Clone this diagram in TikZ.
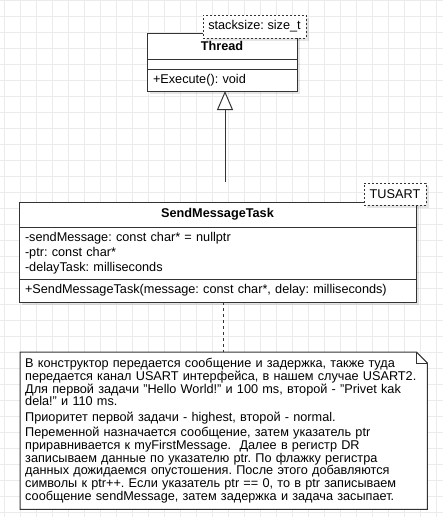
\documentclass[tikz,border=0pt]{standalone}
\usepackage{fontspec}
\setmainfont{Liberation Sans}
\usetikzlibrary{arrows.meta,positioning,shadows,backgrounds}
\definecolor{umlline}{RGB}{51,51,51}
\definecolor{gridc}{RGB}{235,235,235}
\frenchspacing

\tikzset{
  gridline/.style={draw=gridc, line width=0.9pt},
  boxshadow/.style={drop shadow={shadow xshift=3pt, shadow yshift=-3pt, fill=black, opacity=0.1}},
  umlpart/.style={draw=umlline, line width=1pt, fill=white, inner sep=0pt, outer sep=0pt,
    font=\fontsize{12.7}{15}\selectfont},
  umlhead/.style={umlpart, font=\fontsize{12.7}{15}\selectfont\bfseries},
  umlbody/.style={umlpart, align=left, inner xsep=6pt},
  tagbox/.style={umlpart, dash pattern=on 2pt off 2pt, align=center},
  genline/.style={draw=umlline, line width=1pt, -{Triangle[length=19pt, width=16pt, fill=white]}},
  notelink/.style={draw=umlline, line width=1pt, dash pattern=on 3pt off 3pt},
  noteline/.style={draw=umlline, line width=1pt, fill=white},
}

\begin{document}
\begin{tikzpicture}[x=1pt, y=-1pt]
\useasboundingbox (0,0) rectangle (443,517);
\begin{scope}[on background layer]
  \fill[white] (0,0) rectangle (443,517);
  \foreach \gx in {4,20,...,440} \draw[gridline] (\gx,0) -- (\gx,517);
  \foreach \gy in {0,16,...,512} \draw[gridline] (0,\gy) -- (443,\gy);
\end{scope}

% ---- Thread
\node[umlhead, boxshadow, minimum width=150pt, minimum height=26pt, anchor=north west] (thread) at (147,33) {Thread};
\node[umlpart, boxshadow, minimum width=150pt, minimum height=10pt, anchor=north] (threadattr) at (thread.south) {};
\node[umlbody, boxshadow, text width=138pt, minimum height=22pt, anchor=north] (threadops) at (threadattr.south) {+Execute(): void};
\node[tagbox, boxshadow, minimum width=103pt, minimum height=23pt, anchor=north west] (stacktag) at (203,15) {stacksize: size\_t};

% ---- SendMessageTask
\node[umlhead, boxshadow, minimum width=397pt, minimum height=25pt, anchor=north west] (send) at (19,202) {SendMessageTask};
\node[umlbody, boxshadow, text width=385pt, minimum height=52pt, anchor=north] (sendattr) at (send.south)
  {-sendMessage: const char* = nullptr\\-ptr: const char*\\-delayTask: milliseconds};
\node[umlbody, boxshadow, text width=385pt, minimum height=23pt, anchor=north] (sendops) at (sendattr.south)
  {+SendMessageTask(message: const char*, delay: milliseconds)};
\node[tagbox, boxshadow, minimum width=62pt, minimum height=22pt, anchor=north west] (usarttag) at (364,183) {TUSART};

\coordinate (genend) at (225,182);
\draw[genline] (genend) -- (threadops.south -| genend);

% ---- note
\node[inner sep=0pt, minimum width=407pt, minimum height=157pt, text width=397pt, align=left,
  anchor=north west, font=\fontsize{12.7}{12.8}\selectfont] (note) at (20,352)
  {В конструктор передается сообщение и задержка, также туда\\
   передается канал USART интерфейса, в нашем случае USART2.\\
   Для первой задачи "Hello World!" и 100 ms, второй - "Privet kak\\
   dela!" и 110 ms.\\[2.5pt]
   Приоритет первой задачи - highest, второй - normal.\\[2.5pt]
   Переменной назначается сообщение, затем указатель ptr\\
   приравнивается к myFirstMessage.\ \ Далее в регистр DR\\
   записываем данные по указателю ptr. По флажку регистра\\
   данных дожидаемся опустошения. После этого добавляются\\
   символы к ptr++. Если указатель ptr == 0, то в ptr записываем\\
   сообщение sendMessage, затем задержка и задача засыпает.};
\begin{scope}[on background layer]
  \fill[black, opacity=0.1, shift={(3pt,-3pt)}] (note.north west) -- ([xshift=-11pt]note.north east)
    -- ([yshift=-11pt]note.north east) -- (note.south east) -- (note.south west) -- cycle;
  \draw[noteline] (note.north west) -- ([xshift=-11pt]note.north east)
    -- ([yshift=-11pt]note.north east) -- (note.south east) -- (note.south west) -- cycle;
  \draw[umlline, line width=1pt] ([xshift=-11pt]note.north east) -- ([xshift=-11pt, yshift=-11pt]note.north east)
    -- ([yshift=-11pt]note.north east);
\end{scope}

\coordinate (linkx) at (223,0);
\draw[notelink] (sendops.south -| linkx) -- (note.north -| linkx);
\end{tikzpicture}
\end{document}
